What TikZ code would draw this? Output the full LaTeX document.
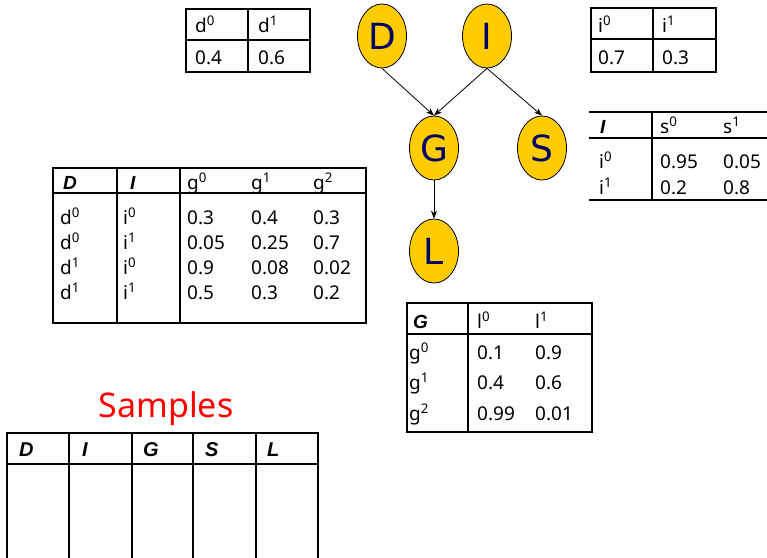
\documentclass[tikz,border=0pt]{standalone}
\usepackage{fontspec}
\setmainfont{Noto Sans}
\newfontfamily\hdrfam{Liberation Sans}
\newfontfamily\nodefam{DejaVu Sans}
\usetikzlibrary{shapes.geometric,arrows.meta}
\definecolor{gold}{HTML}{FFCC00}
\definecolor{navy}{HTML}{000066}
\newcommand{\supr}[1]{\textsuperscript{#1}}
\begin{document}
\begin{tikzpicture}[x=1pt,y=-1pt,
  tline/.style={line width=1.7pt, line cap=rect},
  cell/.style={anchor=base west, inner sep=0pt, font=\fontsize{19}{21}\selectfont},
  hd/.style={anchor=base west, inner sep=0pt, font=\hdrfam\bfseries\itshape\fontsize{19}{21}\selectfont},
  shd/.style={anchor=base west, inner sep=0pt, font=\hdrfam\bfseries\itshape\fontsize{20}{22}\selectfont},
  bn/.style={ellipse, draw=black, line width=0.8pt, fill=gold, minimum width=49pt, minimum height=64pt, inner sep=0pt, text=navy, font=\nodefam\fontsize{36}{40}\selectfont},
  arr/.style={-{Stealth[length=8pt,width=6pt]}, line width=0.8pt}]
\useasboundingbox (0,0) rectangle (767,557);

% Bayesian network
\node[bn] (D) at (382,36) {D};
\node[bn] (I) at (487,36) {I};
\node[bn] (G) at (434,148) {G};
\node[bn] (S) at (542,148) {S};
\node[bn] (L) at (434,251) {L};
\draw[arr] (D.south) -- (G.north);
\draw[arr] (I.south) -- (G.north);
\draw[arr] (I.south) -- (S.north);
\draw[arr] (G.south) -- (L.north);

% P(D)
\draw[tline] (186,9) rectangle (310,72);
\draw[tline] (186,40) -- (310,40);
\draw[tline] (248,9) -- (248,72);
\node[cell] (d0) at (195,32) {d\supr{0}};
\node[cell] (d1) at (258,32) {d\supr{1}};
\node[cell] (pd0) at (195,64) {0.4};
\node[cell] (pd1) at (258,64) {0.6};

% P(I)
\draw[tline] (591,8) rectangle (716,72);
\draw[tline] (591,39) -- (716,39);
\draw[tline] (653,8) -- (653,72);
\node[cell] (i0) at (598,32) {i\supr{0}};
\node[cell] (i1) at (662,32) {i\supr{1}};
\node[cell] (pi0) at (598,64) {0.7};
\node[cell] (pi1) at (662,64) {0.3};

% P(S|I)
\draw[tline] (590,112) -- (767,112);
\draw[tline] (590,138) -- (767,138);
\draw[tline] (590,200) -- (767,200);
\draw[tline] (652,112) -- (652,200);
\node[hd] (sI) at (600,133) {I};
\node[cell] (s0) at (660,133) {s\supr{0}};
\node[cell] (s1) at (723,133) {s\supr{1}};
\node[cell] (si0) at (599,168) {i\supr{0}};
\node[cell] (si1) at (599,194) {i\supr{1}};
\node[cell] (s00) at (660,168) {0.95};
\node[cell] (s01) at (723,168) {0.05};
\node[cell] (s10) at (660,194) {0.2};
\node[cell] (s11) at (723,194) {0.8};

% P(G|D,I)
\draw[tline] (53,168) rectangle (366,323);
\draw[tline] (53,193) -- (366,193);
\draw[tline] (117,168) -- (117,323);
\draw[tline] (180,168) -- (180,323);
\node[hd] (gD) at (63,189) {D};
\node[hd] (gI) at (130,189) {I};
\node[cell] (g0) at (187,189) {g\supr{0}};
\node[cell] (g1) at (251,189) {g\supr{1}};
\node[cell] (g2) at (313,189) {g\supr{2}};
\node[cell] (r1d) at (60,224) {d\supr{0}};
\node[cell] (r1i) at (123,224) {i\supr{0}};
\node[cell] (r1a) at (187,224) {0.3};
\node[cell] (r1b) at (251,224) {0.4};
\node[cell] (r1c) at (313,224) {0.3};
\node[cell] (r2d) at (60,249) {d\supr{0}};
\node[cell] (r2i) at (123,249) {i\supr{1}};
\node[cell] (r2a) at (187,249) {0.05};
\node[cell] (r2b) at (251,249) {0.25};
\node[cell] (r2c) at (313,249) {0.7};
\node[cell] (r3d) at (60,274) {d\supr{1}};
\node[cell] (r3i) at (123,274) {i\supr{0}};
\node[cell] (r3a) at (187,274) {0.9};
\node[cell] (r3b) at (251,274) {0.08};
\node[cell] (r3c) at (313,274) {0.02};
\node[cell] (r4d) at (60,299) {d\supr{1}};
\node[cell] (r4i) at (123,299) {i\supr{1}};
\node[cell] (r4a) at (187,299) {0.5};
\node[cell] (r4b) at (251,299) {0.3};
\node[cell] (r4c) at (313,299) {0.2};

% P(L|G)
\draw[tline] (407,303) rectangle (592,432);
\draw[tline] (407,334) -- (592,334);
\draw[tline] (468,303) -- (468,432);
\node[hd] (lG) at (413,328) {G};
\node[cell] (l0) at (477,328) {l\supr{0}};
\node[cell] (l1) at (535,328) {l\supr{1}};
\node[cell] (lg0) at (409,359) {g\supr{0}};
\node[cell] (lg1) at (409,389) {g\supr{1}};
\node[cell] (lg2) at (409,420) {g\supr{2}};
\node[cell] (l00) at (477,359) {0.1};
\node[cell] (l01) at (535,359) {0.9};
\node[cell] (l10) at (477,389) {0.4};
\node[cell] (l11) at (535,389) {0.6};
\node[cell] (l20) at (477,420) {0.99};
\node[cell] (l21) at (535,420) {0.01};

% Samples
\node[anchor=base, inner sep=0pt, text=red, font=\fontsize{34}{38}\selectfont] (samp) at (166,417) {Samples};
\draw[tline] (7,557) -- (7,433) -- (318,433) -- (318,557);
\draw[tline] (7,464) -- (318,464);
\foreach \xx in {69,132,193,256} \draw[tline] (\xx,433) -- (\xx,557);
\node[shd] (sD) at (19,456) {D};
\node[shd] (sI2) at (82,456) {I};
\node[shd] (sG) at (143,456) {G};
\node[shd] (sS) at (205,456) {S};
\node[shd] (sL) at (267,456) {L};
\end{tikzpicture}
\end{document}
